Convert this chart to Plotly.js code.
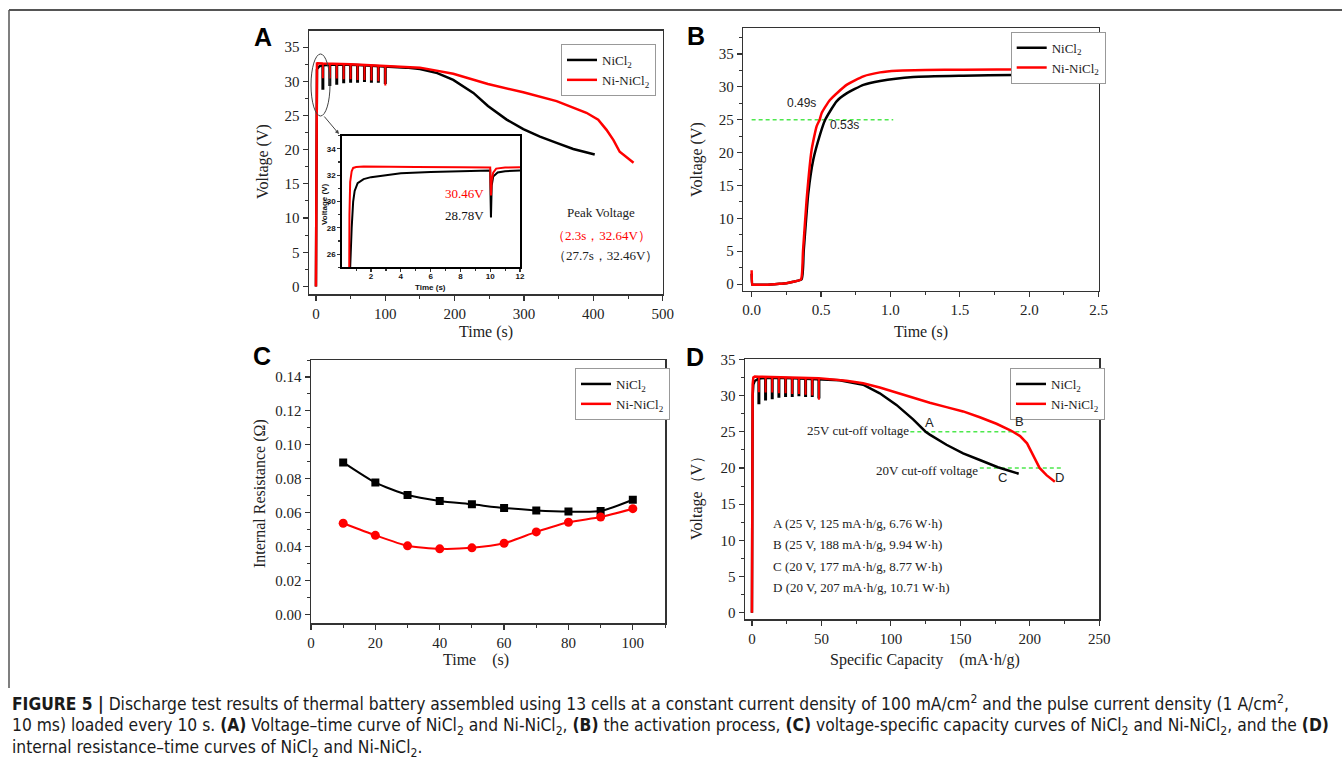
<!DOCTYPE html>
<html>
<head>
<meta charset="utf-8">
<script src="https://cdn.plot.ly/plotly-3.0.1.min.js"></script>
<style>html,body{margin:0;padding:0;background:#fff;}#fig{width:1342px;height:780px;}</style>
</head>
<body>
<div id="fig"></div>
<script>
// ---------- Panel A : voltage vs time ----------
const timeA_NiCl2 = [0, 0.6, 0.7, 0.9, 1.1, 1.5, 2, 3, 5, 10, 27.7, 60, 100, 130, 150, 175, 198, 227, 248, 265, 275, 299, 323, 347, 371, 402];
const voltA_NiCl2 = [0, 25, 28, 30.8, 31.4, 31.7, 31.85, 32.0, 32.2, 32.36, 32.46, 32.4, 32.2, 32.0, 31.8, 31.2, 30.2, 28.3, 26.4, 25.1, 24.4, 23.0, 21.9, 21.0, 20.1, 19.3];
const timeA_NiNiCl2 = [0, 0.5, 0.55, 0.6, 0.7, 0.9, 1.5, 2.3, 10, 50, 100, 150, 198, 248, 299, 347, 390, 407, 419, 429, 438, 448, 458];
const voltA_NiNiCl2 = [0, 25, 29, 31.5, 32.3, 32.55, 32.62, 32.64, 32.6, 32.5, 32.3, 32.0, 31.1, 29.6, 28.4, 27.1, 25.4, 24.4, 22.9, 21.4, 19.7, 18.9, 18.1];
// pulses (every 10 s)
const pulseTimeA = [10, 20, 30, 40, 50, 60, 70, 80, 90, 100];
const pulseTop_NiCl2 = [32.36, 32.42, 32.45, 32.45, 32.44, 32.43, 32.41, 32.38, 32.34, 32.2];
const pulseMin_NiCl2 = [28.78, 29.3, 29.5, 29.7, 29.8, 29.8, 29.9, 29.8, 29.8, 29.6];
const pulseTop_NiNiCl2 = [32.6, 32.59, 32.57, 32.55, 32.5, 32.47, 32.43, 32.4, 32.35, 32.3];
const pulseMin_NiNiCl2 = [30.46, 30.4, 30.4, 30.3, 30.3, 30.2, 30.2, 30.1, 30.0, 29.4];
// inset (0-12 s)
const insetTime_NiCl2 = [0.55, 0.6, 0.7, 0.8, 0.9, 1.1, 1.5, 2, 3, 4, 6, 8, 10, 10.02, 10.05, 10.1, 10.2, 10.5, 11, 12];
const insetVolt_NiCl2 = [0, 25, 28, 30, 30.8, 31.4, 31.7, 31.85, 32.0, 32.15, 32.25, 32.32, 32.36, 30.5, 28.78, 31.2, 31.9, 32.2, 32.3, 32.36];
const insetTime_NiNiCl2 = [0.45, 0.5, 0.55, 0.6, 0.7, 0.8, 1.0, 1.5, 2.3, 5, 8, 10, 10.02, 10.05, 10.1, 10.2, 10.4, 11, 12];
const insetVolt_NiNiCl2 = [0, 25, 29, 31.5, 32.3, 32.55, 32.62, 32.66, 32.66, 32.63, 32.6, 32.58, 31.5, 30.46, 31.6, 32.2, 32.5, 32.58, 32.6];

// ---------- Panel B : activation ----------
const timeB_NiCl2 = [0, 0.005, 0.012, 0.1, 0.2, 0.25, 0.3, 0.36, 0.375, 0.408, 0.444, 0.492, 0.53, 0.612, 0.684, 0.805, 0.925, 1.165, 1.525, 1.885, 2.5];
const voltB_NiCl2 = [1.6, -0.1, -0.1, -0.1, 0.05, 0.15, 0.35, 0.75, 5, 13.8, 18.9, 22.7, 25, 27.8, 29.0, 30.3, 30.9, 31.5, 31.7, 31.8, 32.0];
const timeB_NiNiCl2 = [0, 0.005, 0.012, 0.1, 0.2, 0.25, 0.3, 0.355, 0.37, 0.396, 0.432, 0.468, 0.49, 0.504, 0.564, 0.684, 0.805, 0.925, 1.045, 1.25, 1.525, 2.0, 2.5];
const voltB_NiNiCl2 = [2.1, -0.1, -0.1, -0.1, 0.05, 0.15, 0.35, 0.7, 5, 12.8, 20.4, 24.0, 25, 26.0, 28.0, 30.3, 31.6, 32.2, 32.45, 32.55, 32.6, 32.65, 32.7];
const cutoffB_time = [0, 1.02];
const cutoffB_volt = 25;

// ---------- Panel C : internal resistance ----------
const timeC = [10, 20, 30, 40, 50, 60, 70, 80, 90, 100];
const resC_NiCl2 = [0.0896, 0.0777, 0.0704, 0.0669, 0.0649, 0.0627, 0.0613, 0.0606, 0.0609, 0.0676];
const resC_NiNiCl2 = [0.0537, 0.0466, 0.0404, 0.0386, 0.0392, 0.0419, 0.0486, 0.0543, 0.0574, 0.0623];

// ---------- Panel D : voltage vs specific capacity ----------
const capD_NiCl2 = [0, 0.3, 0.5, 1, 2, 5, 13, 30, 48, 63, 80, 92, 104, 116, 125, 128, 140, 152, 164, 177, 192];
const voltD_NiCl2 = [0, 25, 30, 31.5, 32.0, 32.36, 32.46, 32.4, 32.2, 32.1, 31.5, 30.3, 28.7, 26.7, 25.0, 24.6, 23.2, 22.0, 21.1, 20.1, 19.2];
const capD_NiNiCl2 = [0, 0.25, 0.5, 1, 2, 5, 25, 48, 68, 80, 92, 104, 116, 128, 140, 152, 164, 176, 186, 188, 193, 198, 202.5, 207, 212, 218];
const voltD_NiNiCl2 = [0, 25, 31.5, 32.5, 32.62, 32.6, 32.5, 32.4, 32.05, 31.7, 31.1, 30.4, 29.6, 29.0, 28.4, 27.8, 27.0, 26.1, 25.2, 25.0, 24.4, 23.4, 21.6, 20.0, 19.0, 18.1];
const pulseCapD = [5, 9.8, 14.6, 19.4, 24.2, 29, 33.8, 38.6, 43.4, 48.2];
const cutoff25_cap = [114, 199];
const cutoff20_cap = [164, 223];

// ---------- helpers ----------
const W = 1342, H = 780;
const px = v => v / W;
const py = v => 1 - v / H;
const SERIF = 'Liberation Serif, Times New Roman, serif';
const SANS = 'Liberation Sans, Arial, sans-serif';
const CAPFONT = 'DejaVu Sans Condensed, Liberation Sans, sans-serif';
const BLACK = '#000000', RED = '#ff0000', GREEN = '#4de84d';
const NI = 'NiCl<sub>2</sub>', NINI = 'Ni-NiCl<sub>2</sub>';

function pulses(xs, tops, mins) {
  const x = [], y = [];
  xs.forEach((v, i) => { x.push(v, v, null); y.push(tops[i], mins[i], null); });
  return {x, y};
}
function line(x, y, color, xa, ya, extra) {
  return Object.assign({type: 'scatter', mode: 'lines', x, y, xaxis: xa, yaxis: ya,
    line: {color, width: 2.5}, showlegend: false, hoverinfo: 'skip'}, extra || {});
}

const traces = [];
// Panel A
traces.push(line(timeA_NiCl2, voltA_NiCl2, BLACK, 'x', 'y', {name: NI, showlegend: true, legend: 'legend'}));
let p = pulses(pulseTimeA, pulseTop_NiCl2, pulseMin_NiCl2);
traces.push(line(p.x, p.y, BLACK, 'x', 'y', {line: {color: BLACK, width: 3}}));
traces.push(line(timeA_NiNiCl2, voltA_NiNiCl2, RED, 'x', 'y', {name: NINI, showlegend: true, legend: 'legend'}));
p = pulses(pulseTimeA, pulseTop_NiNiCl2, pulseMin_NiNiCl2);
traces.push(line(p.x, p.y, RED, 'x', 'y', {line: {color: RED, width: 2}}));
// Inset
traces.push(line(insetTime_NiCl2, insetVolt_NiCl2, BLACK, 'x5', 'y5', {line: {color: BLACK, width: 2}}));
traces.push(line(insetTime_NiNiCl2, insetVolt_NiNiCl2, RED, 'x5', 'y5', {line: {color: RED, width: 2}}));
// Panel B
traces.push(line(cutoffB_time, [cutoffB_volt, cutoffB_volt], GREEN, 'x2', 'y2', {line: {color: GREEN, width: 1.5, dash: '4px,3px'}}));
traces.push(line(timeB_NiCl2, voltB_NiCl2, BLACK, 'x2', 'y2', {name: NI, showlegend: true, legend: 'legend2', line: {color: BLACK, width: 2.5, shape: 'spline', smoothing: 0.5}}));
traces.push(line(timeB_NiNiCl2, voltB_NiNiCl2, RED, 'x2', 'y2', {name: NINI, showlegend: true, legend: 'legend2', line: {color: RED, width: 2.5, shape: 'spline', smoothing: 0.5}}));
// Panel C
traces.push(line(timeC, resC_NiCl2, BLACK, 'x3', 'y3', {mode: 'lines+markers', line: {color: BLACK, width: 2, shape: 'spline', smoothing: 0.6}, marker: {symbol: 'square', size: 8, color: BLACK}}));
traces.push(line(timeC, resC_NiNiCl2, RED, 'x3', 'y3', {mode: 'lines+markers', line: {color: RED, width: 2, shape: 'spline', smoothing: 0.6}, marker: {symbol: 'circle', size: 9, color: RED}}));
traces.push(line([null], [null], BLACK, 'x3', 'y3', {name: NI, showlegend: true, legend: 'legend3'}));
traces.push(line([null], [null], RED, 'x3', 'y3', {name: NINI, showlegend: true, legend: 'legend3'}));
// Panel D
traces.push(line(cutoff25_cap, [25, 25], GREEN, 'x4', 'y4', {line: {color: GREEN, width: 1.5, dash: '4px,3px'}}));
traces.push(line(cutoff20_cap, [20, 20], GREEN, 'x4', 'y4', {line: {color: GREEN, width: 1.5, dash: '4px,3px'}}));
traces.push(line(capD_NiCl2, voltD_NiCl2, BLACK, 'x4', 'y4', {name: NI, showlegend: true, legend: 'legend4'}));
p = pulses(pulseCapD, pulseTop_NiCl2, pulseMin_NiCl2);
traces.push(line(p.x, p.y, BLACK, 'x4', 'y4', {line: {color: BLACK, width: 3}}));
traces.push(line(capD_NiNiCl2, voltD_NiNiCl2, RED, 'x4', 'y4', {name: NINI, showlegend: true, legend: 'legend4'}));
p = pulses(pulseCapD, pulseTop_NiNiCl2, pulseMin_NiNiCl2);
traces.push(line(p.x, p.y, RED, 'x4', 'y4', {line: {color: RED, width: 2}}));

function ax(extra) {
  return Object.assign({showgrid: false, zeroline: false, showline: true, linecolor: '#333', linewidth: 1.5,
    mirror: true, ticks: 'outside', ticklen: 5, tickwidth: 1.2, tickcolor: '#333',
    tickfont: {family: SERIF, size: 15, color: '#222'},
    minor: {ticks: 'outside', ticklen: 3, tickwidth: 1, tickcolor: '#333'}}, extra);
}
function leg(x, y) {
  return {x: px(x), y: py(y), xanchor: 'left', yanchor: 'top', bgcolor: '#fff', bordercolor: '#999', borderwidth: 1,
    font: {family: SERIF, size: 13, color: '#222'}, itemwidth: 30, tracegroupgap: 0};
}
function txt(t, x, y, opts) {
  return Object.assign({text: t, x: px(x), y: py(y), xref: 'paper', yref: 'paper', showarrow: false,
    xanchor: 'center', yanchor: 'middle', font: {family: SERIF, size: 13, color: '#222'}}, opts || {});
}

const annotations = [
  // panel letters
  txt('<b>A</b>', 263, 37, {font: {family: SANS, size: 25, color: '#000'}}),
  txt('<b>B</b>', 696, 36, {font: {family: SANS, size: 25, color: '#000'}}),
  txt('<b>C</b>', 262, 356, {font: {family: SANS, size: 25, color: '#000'}}),
  txt('<b>D</b>', 695, 357, {font: {family: SANS, size: 25, color: '#000'}}),
  // axis titles
  txt('Voltage (V)', 263, 162, {textangle: -90, font: {family: SERIF, size: 16, color: '#222'}}),
  txt('Time (s)', 486, 332, {font: {family: SERIF, size: 16, color: '#222'}}),
  txt('Voltage (V)', 697, 160, {textangle: -90, font: {family: SERIF, size: 16, color: '#222'}}),
  txt('Time (s)', 921, 332, {font: {family: SERIF, size: 16, color: '#222'}}),
  txt('Internal Resistance (Ω)', 260, 494, {textangle: -90, font: {family: SERIF, size: 16, color: '#222'}}),
  txt('Time\u2003(s)', 476, 660, {font: {family: SERIF, size: 16, color: '#222'}}),
  txt('Voltage（V）', 697, 494, {textangle: -90, font: {family: SERIF, size: 16, color: '#222'}}),
  txt('Specific Capacity\u3000(mA·h/g)', 925, 660, {font: {family: SERIF, size: 16, color: '#222'}}),
  // panel A notes
  txt('30.46V', 464, 193, {font: {family: SERIF, size: 13, color: RED}}),
  txt('28.78V', 464, 215, {font: {family: SERIF, size: 13, color: '#111'}}),
  txt('Peak Voltage', 601, 213),
  txt('（2.3s，32.64V）', 601, 235, {font: {family: SERIF, size: 13, color: RED}}),
  txt('（27.7s，32.46V）', 605, 256),
  // inset titles
  txt('<b>Time (s)</b>', 430, 287, {font: {family: SANS, size: 8, color: '#111'}}),
  txt('<b>Voltage (V)</b>', 325, 204, {textangle: -90, font: {family: SANS, size: 8, color: '#111'}}),
  // arrow from ellipse to inset
  {x: px(339), y: py(134), ax: -16, ay: -19, xref: 'paper', yref: 'paper', showarrow: true, text: '',
   arrowhead: 2, arrowsize: 0.8, arrowwidth: 1, arrowcolor: '#444'},
  // panel B notes
  txt('0.49s', 801, 103, {font: {family: SANS, size: 12, color: '#222'}}),
  txt('0.53s', 844, 125, {font: {family: SANS, size: 12, color: '#222'}}),
  // panel D notes
  txt('25V cut-off voltage', 858, 430),
  txt('A', 929, 422, {font: {family: SANS, size: 13, color: '#222'}}),
  txt('B', 1019, 421, {font: {family: SANS, size: 13, color: '#222'}}),
  txt('20V cut-off voltage', 927, 470),
  txt('C', 1002, 477, {font: {family: SANS, size: 13, color: '#222'}}),
  txt('D', 1059, 477, {font: {family: SANS, size: 13, color: '#222'}}),
  txt('A (25 V, 125 mA·h/g, 6.76 W·h)', 771, 523, {xanchor: 'left'}),
  txt('B (25 V, 188 mA·h/g, 9.94 W·h)', 771, 544, {xanchor: 'left'}),
  txt('C (20 V, 177 mA·h/g, 8.77 W·h)', 771, 566, {xanchor: 'left'}),
  txt('D (20 V, 207 mA·h/g, 10.71 W·h)', 771, 587, {xanchor: 'left'}),
  // caption
  txt('<b>FIGURE 5 |</b> Discharge test results of thermal battery assembled using 13 cells at a constant current density of 100 mA/cm<sup>2</sup> and the pulse current density (1 A/cm<sup>2</sup>,', 10, 703,
      {xanchor: 'left', font: {family: CAPFONT, size: 17.3, color: '#1a1a1a'}}),
  txt('10 ms) loaded every 10 s. <b>(A)</b> Voltage–time curve of NiCl<sub>2</sub> and Ni-NiCl<sub>2</sub>, <b>(B)</b> the activation process, <b>(C)</b> voltage-specific capacity curves of NiCl<sub>2</sub> and Ni-NiCl<sub>2</sub>, and the <b>(D)</b>', 10, 726,
      {xanchor: 'left', font: {family: CAPFONT, size: 17.3, color: '#1a1a1a'}}),
  txt('internal resistance–time curves of NiCl<sub>2</sub> and Ni-NiCl<sub>2</sub>.', 10, 748,
      {xanchor: 'left', font: {family: CAPFONT, size: 17.3, color: '#1a1a1a'}})
];

const mn = (d) => ({dtick: d, ticks: 'outside', ticklen: 3, tickwidth: 1, tickcolor: '#333'});
const layout = {
  width: W, height: H, margin: {l: 0, r: 0, t: 0, b: 0},
  paper_bgcolor: '#fff', plot_bgcolor: 'rgba(0,0,0,0)',
  xaxis: ax({domain: [px(309), px(662.7)], range: [-10, 500], dtick: 100, anchor: 'y', minor: mn(50)}),
  yaxis: ax({domain: [py(294), py(30.7)], range: [-1.1, 37.4], dtick: 5, anchor: 'x', minor: mn(2.5)}),
  xaxis2: ax({domain: [px(743.3), px(1098.7)], range: [-0.06, 2.5], dtick: 0.5, tickformat: '.1f', anchor: 'y2', minor: mn(0.25)}),
  yaxis2: ax({domain: [py(290.7), py(28.3)], range: [-1, 38.9], dtick: 5, anchor: 'x2', minor: mn(2.5)}),
  xaxis3: ax({domain: [px(311), px(665)], range: [0, 110], dtick: 20, anchor: 'y3', minor: mn(10)}),
  yaxis3: ax({domain: [py(623.3), py(360)], range: [-0.0053, 0.15], dtick: 0.02, tickformat: '.2f', anchor: 'x3', minor: mn(0.01)}),
  xaxis4: ax({domain: [px(745), px(1099.3)], range: [-5, 250], dtick: 50, anchor: 'y4', minor: mn(25)}),
  yaxis4: ax({domain: [py(619.3), py(359.3)], range: [-0.9, 35], dtick: 5, anchor: 'x4', minor: mn(2.5)}),
  xaxis5: ax({domain: [px(342.3), px(520)], range: [0.07, 12], dtick: 2, anchor: 'y5', linecolor: '#000', linewidth: 2, ticklen: 3,
    ticklabelstandoff: -3,
    tickfont: {family: SANS, size: 8, color: '#111', weight: 'bold'}, minor: {dtick: 1, ticks: 'outside', ticklen: 2, tickcolor: '#333'}}),
  yaxis5: ax({domain: [py(267.3), py(135.7)], range: [25, 35], dtick: 2, anchor: 'x5', linecolor: '#000', linewidth: 2, ticklen: 3,
    tickfont: {family: SANS, size: 8, color: '#111', weight: 'bold'}, minor: {dtick: 1, ticks: 'outside', ticklen: 2, tickcolor: '#333'}}),
  legend: leg(561, 44),
  legend2: leg(1010.7, 31.7),
  legend3: leg(575, 368),
  legend4: leg(1010, 368),
  annotations: annotations,
  shapes: [
    {type: 'line', xref: 'paper', yref: 'paper', x0: px(9), x1: 1, y0: py(10), y1: py(10), line: {color: '#555', width: 2}},
    {type: 'line', xref: 'paper', yref: 'paper', x0: px(9), x1: px(9), y0: py(10), y1: py(688), line: {color: '#555', width: 1.5}},
    {type: 'circle', xref: 'paper', yref: 'paper', x0: px(311), x1: px(330), y0: py(116), y1: py(54), line: {color: '#444', width: 1}}
  ]
};

Plotly.newPlot('fig', traces, layout, {displayModeBar: false, staticPlot: true});
</script>
</body>
</html>
